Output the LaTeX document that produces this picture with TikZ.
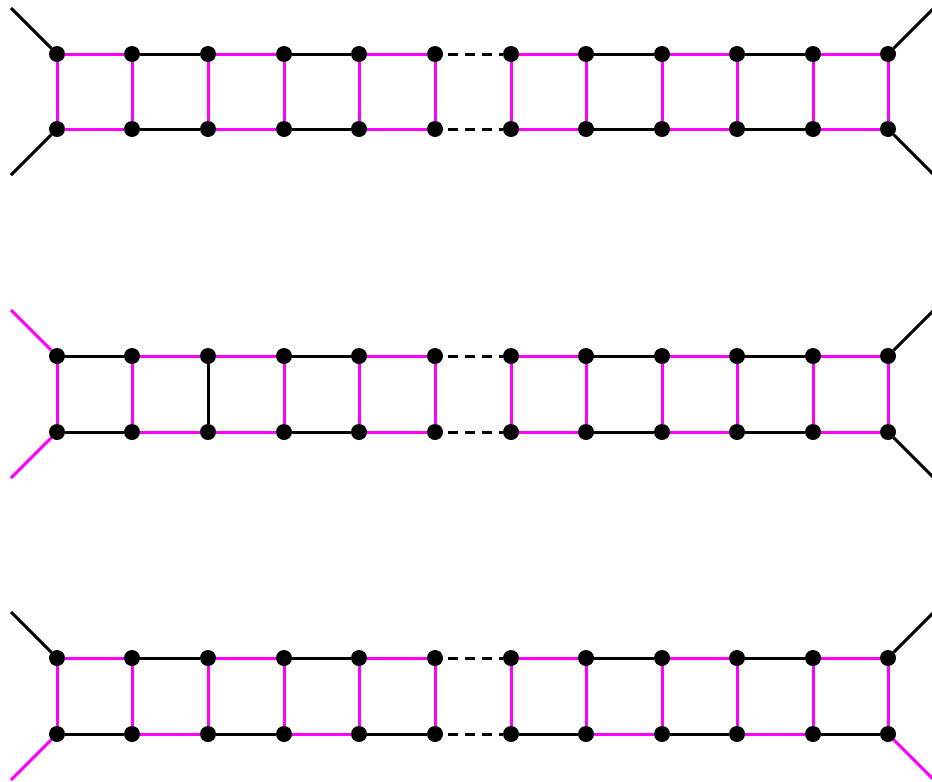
\documentclass[tikz,border=0pt]{standalone}
\definecolor{mag}{RGB}{255,0,255}
\tikzset{
  vtx/.style={circle,fill=black,inner sep=0pt,minimum size=16pt},
  edge/.style={line width=3pt},
  dots/.style={line width=3pt,black,dash pattern=on 10pt off 7pt,dash phase=12pt},
}
\begin{document}
\begin{tikzpicture}[x=1pt,y=-1pt]
\useasboundingbox (0,0) rectangle (932,782);
% vertices
\foreach \x [count=\i from 0] in {57,132,208,284,359,435,511,586,662,737,813,888}{
  \node[vtx] (A\i) at (\x,54) {};
  \node[vtx] (a\i) at (\x,129) {};
  \node[vtx] (B\i) at (\x,356) {};
  \node[vtx] (b\i) at (\x,432) {};
  \node[vtx] (C\i) at (\x,658) {};
  \node[vtx] (c\i) at (\x,734) {};
}
% leg ends
\coordinate (LA) at (11,8);   \coordinate (La) at (11,175);
\coordinate (RA) at (934,8);  \coordinate (Ra) at (934,175);
\coordinate (LB) at (11,310); \coordinate (Lb) at (11,478);
\coordinate (RB) at (934,310);\coordinate (Rb) at (934,478);
\coordinate (LC) at (11,612); \coordinate (Lc) at (11,780);
\coordinate (RC) at (934,612);\coordinate (Rc) at (934,780);

% ladder 1
\foreach \i/\c in {0/mag,1/black,2/mag,3/black,4/mag,6/mag,7/black,8/mag,9/black,10/mag}{
  \pgfmathtruncatemacro\j{\i+1}
  \draw[edge,\c] (A\i) -- (A\j);
  \draw[edge,\c] (a\i) -- (a\j);
}
\foreach \i in {0,...,11}{ \draw[edge,mag] (A\i) -- (a\i); }
\draw[dots] (A5) -- (A6);
\draw[dots] (a5) -- (a6);
\draw[edge,black] (A0) -- (LA);
\draw[edge,black] (a0) -- (La);
\draw[edge,black] (A11) -- (RA);
\draw[edge,black] (a11) -- (Ra);

% ladder 2
\foreach \i/\c in {0/black,1/mag,2/mag,3/black,4/mag,6/mag,7/black,8/mag,9/black,10/mag}{
  \pgfmathtruncatemacro\j{\i+1}
  \draw[edge,\c] (B\i) -- (B\j);
  \draw[edge,\c] (b\i) -- (b\j);
}
\foreach \i/\c in {0/mag,1/mag,2/black,3/mag,4/mag,5/mag,6/mag,7/mag,8/mag,9/mag,10/mag,11/mag}{
  \draw[edge,\c] (B\i) -- (b\i);
}
\draw[dots] (B5) -- (B6);
\draw[dots] (b5) -- (b6);
\draw[edge,mag] (B0) -- (LB);
\draw[edge,mag] (b0) -- (Lb);
\draw[edge,black] (B11) -- (RB);
\draw[edge,black] (b11) -- (Rb);

% ladder 3
\foreach \i/\c in {0/mag,1/black,2/mag,3/black,4/mag,6/mag,7/black,8/mag,9/black,10/mag}{
  \pgfmathtruncatemacro\j{\i+1}
  \draw[edge,\c] (C\i) -- (C\j);
}
\foreach \i/\c in {0/black,1/mag,2/black,3/mag,4/black,6/black,7/mag,8/black,9/mag,10/black}{
  \pgfmathtruncatemacro\j{\i+1}
  \draw[edge,\c] (c\i) -- (c\j);
}
\foreach \i in {0,...,11}{ \draw[edge,mag] (C\i) -- (c\i); }
\draw[dots] (C5) -- (C6);
\draw[dots] (c5) -- (c6);
\draw[edge,black] (C0) -- (LC);
\draw[edge,mag] (c0) -- (Lc);
\draw[edge,black] (C11) -- (RC);
\draw[edge,mag] (c11) -- (Rc);
\end{tikzpicture}
\end{document}
